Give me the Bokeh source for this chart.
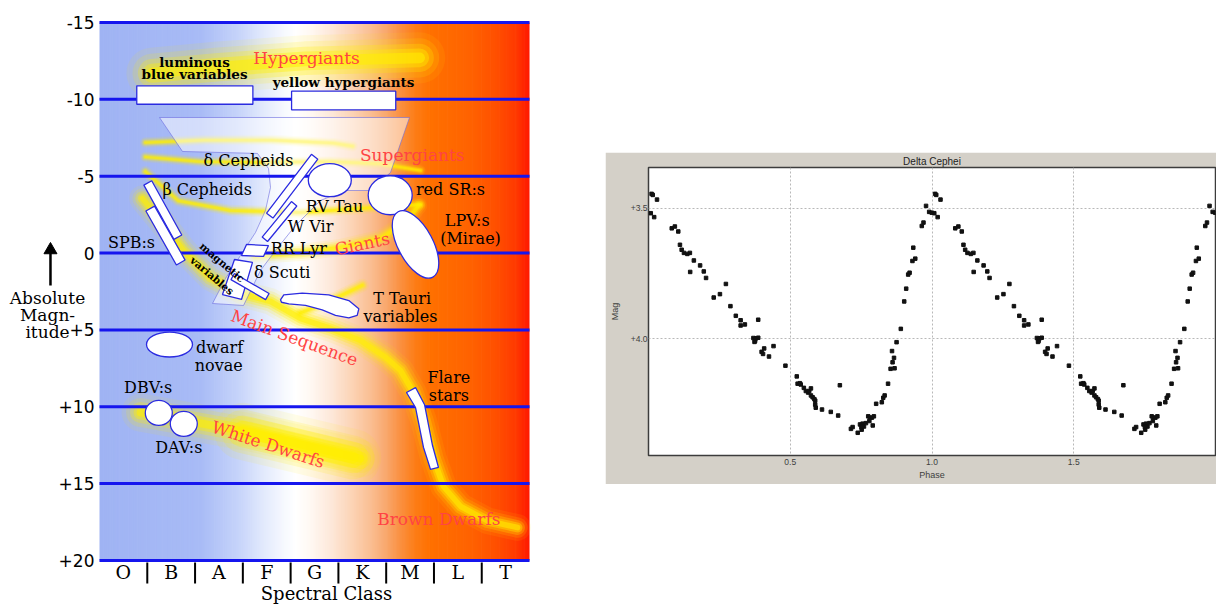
import numpy as np
from bokeh.plotting import figure
from bokeh.models import Range1d, FixedTicker, ColumnDataSource, Spacer
from bokeh.layouts import row, column
from bokeh.core.properties import value
from bokeh.embed import file_html
from bokeh.resources import INLINE

# ---------------- left panel: variable stars on the HR diagram ----------------
spectral_classes = ["O", "B", "A", "F", "G", "K", "M", "L", "T"]
class_centers = [0.5, 1.5, 2.5, 3.5, 4.5, 5.5, 6.5, 7.5, 8.5]
class_bounds = [1, 2, 3, 4, 5, 6, 7, 8]
mag_ticks = [-15, -10, -5, 0, 5, 10, 15, 20]
mag_tick_labels = ["-15", "-10", "-5", "0", "+5", "+10", "+15", "+20"]
axis_title_lines = ["Absolute", "Magn-", "itude"]
axis_title_y = [2.91, 4.06, 5.15]

# background colour stops (spectral-class position -> colour)
grad_x = [0.0, 2.11, 2.95, 3.37, 3.79, 4.10, 4.42, 4.84, 5.25, 5.67, 5.99, 6.30, 6.62, 6.93, 7.77, 8.29, 8.71, 9.0]
grad_colors = ["#9fb3f3", "#a8bbf6", "#c8d5fa", "#dfe7fc", "#f3f6fe", "#ffffff", "#fff8f2", "#fde8da",
               "#fcd5b8", "#fabf93", "#f9a86e", "#fa9040", "#fd7c15", "#ff7000", "#ff6200", "#ff5000",
               "#ff3a00", "#ff1800"]

# yellow bands (class position, absolute magnitude)
hyper_x = [1.1, 2.5, 4.3, 6.7]
hyper_y = [-11.7, -12.1, -12.5, -12.7]
sg1_x = [0.96, 2.2, 3.6, 4.9, 5.3]
sg1_y = [-7.19, -7.35, -7.35, -7.15, -6.95]
sg2_x = [0.96, 2.11, 3.37, 4.83, 5.88, 6.72]
sg2_y = [-6.25, -5.95, -5.9, -5.95, -5.8, -5.37]
sg3_x = [0.96, 1.65, 2.74, 4.21, 5.46, 6.72]
sg3_y = [-5.3, -3.4, -2.77, -2.64, -2.9, -3.16]
ms_x = [0.90, 1.28, 1.76, 2.32, 2.95, 3.58, 4.21, 4.84, 5.46, 5.99, 6.30, 6.57, 6.78, 6.99, 7.20, 7.56, 8.12, 8.75]
ms_y = [-3.55, -2.12, -0.17, 1.59, 2.63, 3.15, 4.26, 4.91, 5.69, 6.79, 7.64, 9.07, 10.89, 13.37, 15.19, 16.49, 17.41, 17.86]
pms_x = [4.2, 4.9, 5.5]
pms_y = [3.9, 3.0, 2.1]
giant_x = [3.26, 4.21, 5.04, 5.88, 6.40, 6.68]
giant_y = [0.16, -0.04, -0.36, -0.95, -1.99, -3.09]
wd_x = [0.86, 3.16, 5.46]
wd_y = [10.37, 11.67, 13.37]
wd2_x = [3.0, 5.3]
wd2_y = [11.6, 13.3]

# instability strip outline
strip_x = [1.256, 6.488, 6.090, 5.672, 5.149, 4.625, 4.102, 3.684, 3.370, 3.014, 2.365, 2.637, 2.951,
           3.265, 3.474, 3.579, 3.537, 3.307, 1.737]
strip_y = [-8.82, -8.82, -5.24, -4.07, -4.07, -3.42, -1.79, -0.17, 1.13, 3.41, 3.28, 1.66, 0.16,
           -1.34, -2.77, -4.27, -5.50, -6.48, -6.61]

# boxes of hypergiant variables
box_left = [0.78, 4.02]
box_right = [3.21, 6.20]
box_top = [-10.88, -10.53]
box_bottom = [-9.68, -9.32]

# slanted bars: beta Cep, SPB, delta Cep, W Vir, magnetic
bar_x = [1.325, 1.381, 4.033, 3.767, 3.150]
bar_y = [-2.80, -1.14, -4.35, -2.05, 2.18]
bar_len = [62, 62, 74, 46, 40]
bar_thick = [9, 10, 8, 7, 7]
bar_angle = [-61, -60.5, 52.7, 50.5, -30]

# ellipses: RV Tau, red SR, LPV, dwarf novae, DBV, DAV
ell_x = [4.820, 6.084, 6.614, 1.465, 1.241, 1.764]
ell_y = [-4.74, -3.76, -0.56, 5.95, 10.40, 11.11]
ell_w = [43, 44, 74, 46, 27, 27]
ell_h = [33, 39, 35, 25, 25, 25]
ell_angle = [0, 0, -62, 0, 0, 0]

# other outlined regions: RR Lyr, delta Scuti, T Tauri, flare stars
rr_x = [3.077, 3.537, 3.432, 2.972]
rr_y = [-0.56, -0.49, 0.22, 0.16]
dsct_x = [2.825, 3.202, 2.972, 2.574]
dsct_y = [0.42, 0.61, 3.02, 2.70]
tt_x = [3.788, 3.857, 4.242, 4.799, 5.218, 5.427, 5.393, 5.218, 4.939, 4.661, 4.311, 3.962, 3.809]
tt_y = [3.04, 2.72, 2.61, 2.72, 3.09, 3.63, 4.06, 4.21, 4.06, 3.69, 3.41, 3.30, 3.20]
flare_x = [6.425, 6.614, 6.781, 6.928, 7.095, 6.970, 6.802, 6.614]
flare_y = [9.07, 10.05, 12.65, 14.08, 13.95, 12.52, 9.85, 8.75]

black_text = ["δ Cepheids", "β Cepheids", "SPB:s", "RV Tau", "W Vir", "RR Lyr", "δ Scuti", "red SR:s",
              "LPV:s", "(Mirae)", "T Tauri", "variables", "dwarf", "novae", "DBV:s", "DAV:s", "Flare", "stars"]
black_x = [3.118, 2.254, 0.670, 4.918, 4.416, 4.171, 3.824, 7.346, 7.696, 7.765, 6.335, 6.300, 2.512,
           2.497, 1.019, 1.660, 7.311, 7.311]
black_y = [-6.02, -4.14, -0.71, -3.05, -1.73, -0.28, 1.25, -4.12, -2.12, -0.93, 2.98, 4.13, 6.16, 7.31,
           8.73, 12.67, 8.12, 9.27]
red_text = ["Hypergiants", "Supergiants", "Giants", "Main Sequence", "White Dwarfs", "Brown Dwarfs"]
red_x = [4.332, 6.545, 5.498, 4.081, 3.533, 7.101]
red_y = [-12.72, -6.35, -0.60, 5.51, 12.45, 17.29]
red_angle = [0, 0, 12, -20, -18, 0]
bold_text = ["luminous", "blue variables", "yellow hypergiants"]
bold_x = [1.988, 1.988, 5.107]
bold_y = [-12.46, -11.62, -11.16]
mag_var_text = ["magnetic", "variables"]
mag_var_x = [2.568, 2.359]
mag_var_y = [0.59, 1.46]

# ---------------- right panel: Delta Cephei light curve ----------------
phase = [0.008, 0.011, 0.015, 0.020, 0.030, 0.082, 0.093, 0.105, 0.111, 0.117, 0.125, 0.137, 0.146,
         0.147, 0.160, 0.182, 0.195, 0.203, 0.230, 0.252, 0.273, 0.289, 0.308, 0.325, 0.325, 0.340,
         0.370, 0.374, 0.376, 0.380, 0.387, 0.387, 0.399, 0.404, 0.408, 0.425, 0.441, 0.483, 0.523,
         0.526, 0.534, 0.537, 0.548, 0.555, 0.563, 0.567, 0.573, 0.573, 0.579, 0.585, 0.588, 0.588,
         0.590, 0.612, 0.643, 0.669, 0.675, 0.714, 0.720, 0.738, 0.746, 0.751, 0.752, 0.755, 0.760,
         0.767, 0.775, 0.779, 0.781, 0.788, 0.791, 0.795, 0.803, 0.823, 0.828, 0.833, 0.845, 0.854,
         0.859, 0.861, 0.866, 0.868, 0.875, 0.890, 0.902, 0.909, 0.916, 0.921, 0.931, 0.934, 0.941,
         0.964, 0.970, 0.979, 0.990, 0.999]
mag = [3.519, 3.445, 3.449, 3.534, 3.467, 3.577, 3.570, 3.589, 3.640, 3.659, 3.671, 3.675, 3.671,
       3.744, 3.700, 3.719, 3.742, 3.767, 3.842, 3.829, 3.790, 3.875, 3.912, 3.929, 3.949, 3.945,
       3.997, 4.012, 4.008, 3.998, 3.996, 3.927, 4.050, 4.058, 4.037, 4.068, 4.028, 4.103, 4.144,
       4.172, 4.170, 4.175, 4.188, 4.200, 4.206, 4.200, 4.190, 4.217, 4.224, 4.231, 4.237, 4.252,
       4.264, 4.271, 4.280, 4.294, 4.178, 4.345, 4.338, 4.360, 4.328, 4.338, 4.348, 4.325, 4.336,
       4.323, 4.297, 4.315, 4.302, 4.302, 4.332, 4.297, 4.249, 4.243, 4.226, 4.217, 4.172, 4.115,
       4.047, 4.090, 4.073, 4.113, 4.013, 3.962, 3.857, 3.808, 3.754, 3.747, 3.702, 3.651, 3.693,
       3.568, 3.555, 3.491, 3.514, 3.517]
phase_ticks = [0.5, 1.0, 1.5]
phase_tick_labels = ["0.5", "1.0", "1.5"]
mag_curve_ticks = [3.5, 4.0]
mag_curve_tick_labels = ["+3.5", "+4.0"]

# ======================= build left figure =======================
SERIF = "DejaVu Serif"
BLUE = "#1515ee"
OUT = "#2b2be0"
YEL = "#ffee00"
RED = "#ff4444"

# the whole left picture is one frame; its ranges reach beyond the diagram so that
# the magnitude scale, spectral classes and titles sit around the coloured area
p = figure(width=605, height=605, x_range=Range1d(-2.072, 10.590), y_range=Range1d(22.929, -16.431),
           output_backend="svg", toolbar_location=None, x_axis_location=None, y_axis_location=None,
           min_border_left=0, min_border_right=0, min_border_top=0, min_border_bottom=0)
p.outline_line_color = None
p.grid.visible = False
p.background_fill_color = "white"
p.border_fill_color = "white"


def hex2rgb(h):
    return [int(h[i:i + 2], 16) for i in (1, 3, 5)]


rgb = np.array([hex2rgb(c) for c in grad_colors], dtype=float)
edges = np.linspace(0, 9, 241)
mids = 0.5 * (edges[:-1] + edges[1:])
cols = []
for m in mids:
    r, g, b = (int(round(np.interp(m, grad_x, rgb[:, k]))) for k in range(3))
    cols.append("#%02x%02x%02x" % (r, g, b))
p.quad(left=edges[:-1], right=np.minimum(edges[1:] + 0.015, 9), top=-15, bottom=20,
       fill_color=cols, line_color=None)


def glow(xs, ys, w):
    for f, a in ((1.9, 0.09), (1.45, 0.15), (1.05, 0.25), (0.7, 0.38), (0.4, 0.55)):
        p.line(xs, ys, line_width=w * f, line_color=YEL, line_alpha=a,
               line_cap="round", line_join="round")


glow(hyper_x, hyper_y, 27)
glow(sg1_x, sg1_y, 5.5)
glow(sg2_x, sg2_y, 5.5)
glow(sg3_x, sg3_y, 6)
glow(giant_x, giant_y, 9)
glow(pms_x, pms_y, 7)
glow(ms_x, ms_y, 14)
glow(wd_x, wd_y, 20)
glow(wd2_x, wd2_y, 30)

p.patch(strip_x, strip_y, fill_color="white", fill_alpha=0.5, line_color="#6a6ae0",
        line_alpha=0.6, line_width=1)

# magnitude grid lines (blue)
p.segment(x0=[0] * len(mag_ticks), x1=[9] * len(mag_ticks), y0=mag_ticks, y1=mag_ticks,
          line_color=BLUE, line_width=3)

p.quad(left=box_left, right=box_right, top=box_top, bottom=box_bottom,
       fill_color="white", line_color=OUT, line_width=1.3)
p.patches(xs=[rr_x, dsct_x, tt_x, flare_x], ys=[rr_y, dsct_y, tt_y, flare_y],
          fill_color="white", line_color=OUT, line_width=1.3)
p.rect(x=bar_x, y=bar_y, width=bar_len, height=bar_thick, angle=bar_angle, angle_units="deg",
       width_units="screen", height_units="screen", fill_color="white", line_color=OUT, line_width=1.3)
p.ellipse(x=ell_x, y=ell_y, width=ell_w, height=ell_h, angle=ell_angle, angle_units="deg",
          width_units="screen", height_units="screen", fill_color="white", line_color=OUT, line_width=1.3)

p.text(x=black_x, y=black_y, text=black_text, text_font=value(SERIF), text_font_size="16px",
       text_color="black", text_align="center", text_baseline="middle")
p.text(x=red_x, y=red_y, text=red_text, angle=red_angle, angle_units="deg", text_font=value(SERIF),
       text_font_size="17px", text_color=RED, text_align="center", text_baseline="middle")
p.text(x=bold_x, y=bold_y, text=bold_text, text_font=value(SERIF), text_font_size="13.5px",
       text_font_style="bold", text_color="black", text_align="center", text_baseline="middle")
p.text(x=mag_var_x, y=mag_var_y, text=mag_var_text, angle=-40, angle_units="deg",
       text_font=value(SERIF), text_font_size="10.5px", text_font_style="bold",
       text_color="black", text_align="center", text_baseline="middle")

# magnitude scale
p.text(x=[-0.105] * len(mag_ticks), y=mag_ticks, text=mag_tick_labels, text_font=value("DejaVu Sans"),
       text_font_size="17px", text_color="black", text_align="right", text_baseline="middle")
p.text(x=[-1.088] * 3, y=axis_title_y, text=axis_title_lines, text_font=value(SERIF),
       text_font_size="17px", text_color="black", text_align="center", text_baseline="middle")
p.segment(x0=[-1.026], x1=[-1.026], y0=[2.11], y1=[-0.04], line_color="black", line_width=2.5)
p.scatter(x=[-1.026], y=[-0.20], marker="triangle", size=13, fill_color="black", line_color="black")

# spectral class scale
p.segment(x0=class_bounds, x1=class_bounds, y0=[20.13] * len(class_bounds), y1=[21.5] * len(class_bounds),
          line_color="black", line_width=2)
p.text(x=class_centers, y=[20.78] * len(class_centers), text=spectral_classes, text_font=value(SERIF),
       text_font_size="19px", text_color="black", text_align="center", text_baseline="middle")
p.text(x=[4.75], y=[22.18], text=["Spectral Class"], text_font=value(SERIF), text_font_size="18px",
       text_color="black", text_align="center", text_baseline="alphabetic")

# ======================= build right figure =======================
q = figure(width=611, height=332, x_range=Range1d(0, 2), y_range=Range1d(4.447, 3.344),
           output_backend="svg", toolbar_location=None, title="Delta Cephei",
           min_border_left=43, min_border_right=1, min_border_top=15, min_border_bottom=29)
q.border_fill_color = "#d4d0c8"
q.background_fill_color = "white"
q.outline_line_color = "#3c3c3c"
q.outline_line_width = 1.5
q.title.align = "center"
q.title.text_font = "Liberation Sans"
q.title.text_font_size = "10px"
q.title.text_font_style = "normal"
q.title.text_color = "#222222"
q.title.standoff = 1

q.xaxis.ticker = FixedTicker(ticks=phase_ticks)
q.xaxis.major_label_overrides = dict(zip(phase_ticks, phase_tick_labels))
q.yaxis.ticker = FixedTicker(ticks=mag_curve_ticks)
q.yaxis.major_label_overrides = dict(zip(mag_curve_ticks, mag_curve_tick_labels))
q.xaxis.axis_label = "Phase"
q.yaxis.axis_label = "Mag"
for ax in (q.xaxis[0], q.yaxis[0]):
    ax.major_tick_line_color = None
    ax.minor_tick_line_color = None
    ax.major_tick_out = 0
    ax.major_tick_in = 0
    ax.minor_tick_out = 0
    ax.minor_tick_in = 0
    ax.axis_line_color = None
    ax.major_label_text_font = "Liberation Sans"
    ax.major_label_text_font_size = "8.5px"
    ax.major_label_text_color = "#404040"
    ax.axis_label_text_font = "Liberation Sans"
    ax.axis_label_text_font_size = "9px"
    ax.axis_label_text_font_style = "normal"
    ax.axis_label_text_color = "#404040"
q.xaxis.major_label_standoff = 3
q.xaxis.axis_label_standoff = 2
q.yaxis.major_label_standoff = 1
q.yaxis.axis_label_standoff = 8
q.grid.grid_line_color = "#b8b8b8"
q.grid.grid_line_dash = "2 2"
q.grid.grid_line_width = 1
q.xgrid.ticker = FixedTicker(ticks=phase_ticks)
q.ygrid.ticker = FixedTicker(ticks=mag_curve_ticks)

src1 = ColumnDataSource(dict(phase=phase, mag=mag))
src2 = ColumnDataSource(dict(phase=[ph + 1 for ph in phase], mag=mag))
for s in (src1, src2):
    q.scatter("phase", "mag", source=s, marker="square", size=3.5, fill_color="#111111",
              line_color="#111111")

layout = row(p, column(Spacer(width=611, height=152), q))
open("out.html", "w").write(file_html(layout, INLINE))
